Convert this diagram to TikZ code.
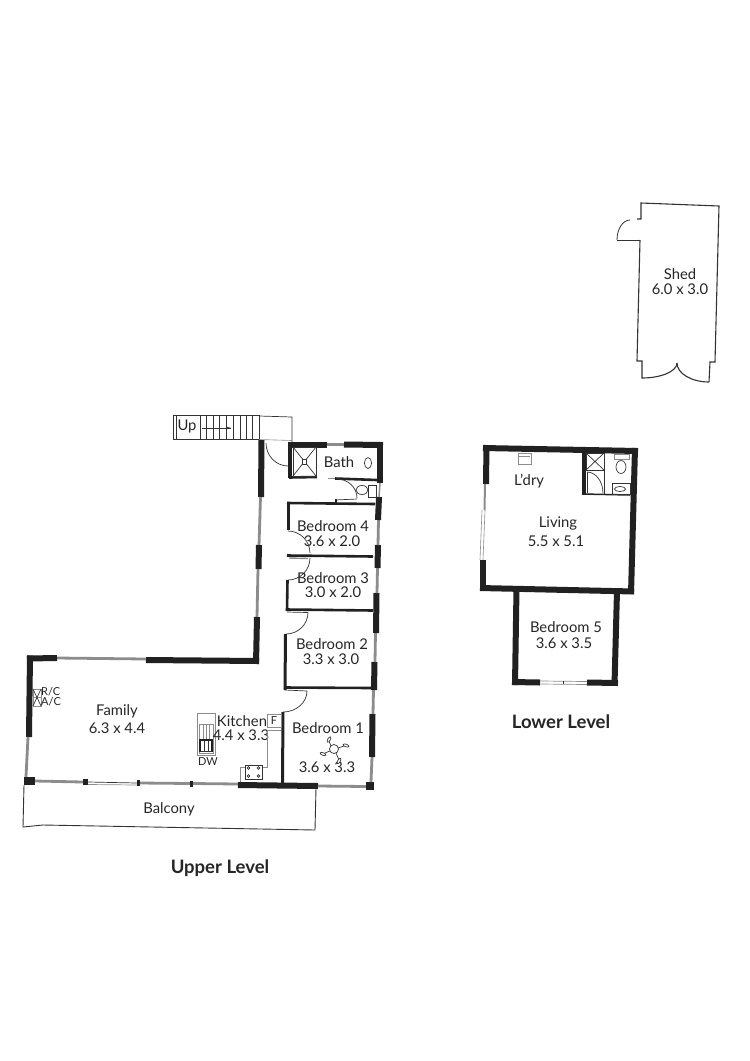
\documentclass[tikz,border=0pt]{standalone}
\usepackage{fontspec}
\usetikzlibrary{calc}
\setmainfont{Lato}
\definecolor{wallc}{gray}{0.13}
\definecolor{glassc}{gray}{0.55}
\definecolor{inkc}{gray}{0.2}
\tikzset{
 wall/.style={line width=6pt,draw=wallc},
 swall/.style={line width=2.6pt,draw=wallc},
 glass/.style={line width=2.8pt,draw=glassc},
 thin/.style={line width=0.7pt,draw=inkc},
 fine/.style={line width=0.6pt,draw=glassc},
 lbl/.style={font=\fontsize{14.8}{16}\selectfont,text=black!85,inner sep=0pt},
 small/.style={font=\fontsize{11}{12}\selectfont,text=black!85,inner sep=0pt},
 head/.style={font=\bfseries\fontsize{18.5}{20}\selectfont,text=black!85,inner sep=0pt},
}
% quarter arc from #1 to #3 with corner #2
\newcommand{\qarc}[3]{#1 .. controls ($#1!0.55!#2$) and ($#3!0.55!#2$) .. #3}
\begin{document}
\begin{tikzpicture}[x=1pt,y=-1pt]
\useasboundingbox[fill=white] (0,0) rectangle (750,1061);
% ---------- Stairs
\draw[thin] (173,415) rectangle (259,439);
\draw[thin] (259,416) -- (292,417) -- (292,442);
\draw[fine] (259,439.5) -- (292,440.5);
\foreach \x in {200,206.5,213,219.5,226,233,240,246,252.5}{\draw[fine,draw=inkc] (\x,415) -- (\x,439);}
\draw[fine,draw=inkc] (176,415) -- (176,439);
\draw[fine,draw=inkc] (202,428) -- (231,428);
\draw[fill=inkc,draw=none] (231,428) -- (226,426.5) -- (226,429.5) -- cycle;
\node[lbl] (up) at (187,426) {Up};
% ---------- Upper level walls: left / family
\draw[wall] (261.5,440) -- (261,497);
\draw[glass] (260.5,497) -- (259,546);
\draw[wall] (259,545) -- (258.5,569);
\draw[glass] (258,569) -- (257,617);
\draw[wall] (257,617) -- (256,664);
\draw[wall] (259,661) -- (146,660);
\draw[glass] (146,659) -- (57,658);
\draw[wall] (57,658) -- (27,658.5);
\draw[wall] (30,655.5) -- (29,737);
\draw[glass] (28,737) -- (26,777);
\draw[wall,line width=8pt] (24,781) -- (35,781);
% balcony wall
\draw[glass] (35,781) -- (83,782);
\draw[wall,line width=6pt] (83,782) -- (88,782);
\draw[thin] (88,782) -- (137,783);
\draw[thin,draw=glassc] (88,784.5) -- (137,785);
\draw[wall,line width=6pt] (137,782.5) -- (140,782.5);
\draw[glass] (140,783) -- (190,783.5);
\draw[wall,line width=6pt] (190,783.5) -- (193,783.5);
\draw[glass] (193,783.5) -- (238,784);
\draw[wall] (238,785) -- (318,786);
\draw[glass] (318,786) -- (366,786.5);
\draw[wall,line width=8pt] (366,786) -- (374,786);
% right wall
\draw[glass] (371,782) -- (372,757);
\draw[wall] (372,757) -- (372.5,714);
\draw[glass] (373,714) -- (373.5,690);
\draw[wall] (374,690) -- (374.5,662);
\draw[glass] (375,662) -- (375.5,633);
\draw[wall] (376,633) -- (376.5,593);
\draw[glass] (377,593) -- (377.5,568);
\draw[wall] (377.5,568) -- (378,545);
\draw[glass] (378,545) -- (378.5,520);
\draw[wall] (378,520) -- (379,497);
\draw[glass,line width=1.5pt] (379,497) -- (380,483);
\draw[wall] (380,483) -- (380,442);
% top bath wall
\draw[wall] (288,444.5) -- (327,444.5);
\draw[glass] (327,444.5) -- (344,444.5);
\draw[wall] (344,444.5) -- (383,445);
% shower
\draw[swall,line width=3.5pt] (290,443) -- (290,478);
\draw[swall] (289,477.5) -- (317,477);
\draw[thin] (293,447) rectangle (316,476);
\draw[thin] (293,447) -- (316,476) (316,447) -- (293,476);
\draw[thin,fill=white] (302,459) rectangle (306,464);
% entry door
\draw[thin] \qarc{(266,443)}{(266,466)}{(288,466)};
\node[lbl] (bath) at (339,462) {Bath};
\draw[thin] (368,463) ellipse (3.6pt and 5.5pt);
% ensuite
\draw[swall] (335,478.5) -- (377,480);
\draw[fine] (328,478) -- (335,478);
\draw[thin] \qarc{(337,479)}{(357,479)}{(357,498)};
\draw[thin] (362,490) ellipse (6pt and 4.5pt);
\draw[thin] (368,485) rectangle (376,497);
\draw[thin] (335,500) -- (357,499);
\draw[swall,line width=1.5pt] (336,499) -- (336,503);
% bedroom 4
\draw[swall] (287,503) -- (375,504);
\draw[swall] (288.5,503) -- (288.5,530);
\draw[thin] \qarc{(288,531)}{(310,531)}{(310,553)};
\draw[swall] (287,555.5) -- (373,556.5);
\draw[fine,line width=1.4pt] (289,558) -- (308,558.5);
\node[lbl] (b4) at (333,526) {Bedroom 4};
\node[lbl] (b4d) at (332,541) {3.6 x 2.0};
% bedroom 3
\draw[thin] \qarc{(310,558)}{(310,580)}{(288,580)};
\draw[swall] (287.5,580) -- (287,611);
\draw[swall] (286,609.5) -- (373,610.5);
\node[lbl] (b3) at (333,578) {Bedroom 3};
\node[lbl] (b3d) at (333,592) {3.0 x 2.0};
% bedroom 2
\draw[thin] (287,612) -- (308,612.5);
\draw[thin] \qarc{(308,612.5)}{(308,634)}{(286,634)};
\draw[swall,line width=3pt] (285.5,634) -- (285,690);
\draw[swall] (284,687.5) -- (372,688);
\node[lbl] (b2) at (332,644) {Bedroom 2};
\node[lbl] (b2d) at (331,659) {3.3 x 3.0};
% bedroom 1
\draw[thin] (285,690) -- (307,691);
\draw[thin] \qarc{(307,691)}{(307,712)}{(283,712)};
\draw[swall,line width=3pt] (283,712) -- (282.5,783);
\node[lbl] (b1) at (328,728) {Bedroom 1};
\node[lbl] (b1d) at (327,767) {3.6 x 3.3};
% fan
\draw[thin] (331,746) -- (329,741) (338,748) -- (344,746) (330,751) -- (325,753) (336,753) -- (339,760);
\draw[thin,fill=white,rotate around={60:(329,739.5)}] (329,739.5) ellipse (3pt and 1.3pt);
\draw[thin,fill=white,rotate around={-20:(346,745.5)}] (346,745.5) ellipse (3pt and 1.3pt);
\draw[thin,fill=white,rotate around={-20:(323,754)}] (323,754) ellipse (3pt and 1.3pt);
\draw[thin,fill=white,rotate around={60:(339,761)}] (339,761) ellipse (3pt and 1.3pt);
\draw[thin,fill=white] (334,749) circle (4.5pt);
% kitchen
\draw[thin,draw=glassc] (197,713) rectangle (215,755);
\draw[thin,draw=glassc] (199,724) rectangle (213,753);
\draw[thin] (200,740) rectangle (212,751);
\draw[line width=1.3pt,draw=wallc] (200,752) -- (200,740) -- (212,740) -- (212,752);
\draw[fine] (203,724) -- (203,739) (206,724) -- (206,739) (209,724) -- (209,739);
\draw[fine,draw=inkc] (204,741) -- (204,751) (208,741) -- (208,751);
\node[small] (dw) at (208,762) {DW};
\node[lbl] (kit) at (242,721) {Kitchen};
\node[lbl] (kitd) at (241,735) {4.4 x 3.3};
\draw[thin,draw=glassc] (267,714) rectangle (281,727);
\node[small] (f) at (274,720.5) {F};
\draw[thin,draw=glassc] (281,730) -- (267,730) -- (267,767) -- (240,767) -- (240,782);
\draw[thin,fill=white] (245,765) rectangle (262,779);
\draw[thin] (248.5,768) circle (1.3pt) (258.5,768) circle (1.3pt) (248.5,776) circle (1.3pt) (258.5,776) circle (1.3pt);
% family
\draw[thin,draw=glassc] (33,689) rectangle (41,697);
\draw[thin,draw=glassc] (33,697) rectangle (41,706);
\draw[thin] (33,689) -- (41,706) (41,689) -- (33,706);
\node[small,anchor=west] (rc) at (41,692) {R/C};
\node[small,anchor=west] (ac) at (41,702) {A/C};
\node[lbl] (fam) at (117,711) {Family};
\node[lbl] (famd) at (117,728) {6.3 x 4.4};
% balcony
\draw[line width=0.9pt,draw=inkc] (24,785) -- (23,827) -- (43,825) -- (315,830) -- (316,788);
\node[lbl] (balc) at (169,809) {Balcony};
\node[head] (ul) at (220,868) {Upper Level};
% ---------- Lower level
\draw[wall] (483,448) -- (638,451);
\draw[wall] (635,448) -- (631,594);
\draw[wall] (634,591.5) -- (480,588);
\draw[wall] (486.5,445) -- (486,484);
\draw[wall] (483,560) -- (483,591);
\draw[glass,line width=2pt] (485,484) -- (484.5,510);
\draw[fine] (482,510) -- (480,560) (485,510) -- (483,560);
% bedroom 5
\draw[wall] (516.5,589) -- (515,685);
\draw[wall] (617,591) -- (614.5,685);
\draw[wall] (512,682) -- (540,682.5);
\draw[wall] (587,682.5) -- (618,683);
\draw[thin,draw=glassc] (540,681) -- (587,681.5) (540,684) -- (587,684.5);
\draw[thin] (563,681.2) -- (563,684.3);
% lower bath
\draw[swall,line width=3.5pt] (584,451) -- (584,495);
\draw[swall,line width=1.5pt] (582,494) -- (630,495);
\draw[thin] (586,453) rectangle (604,470);
\draw[thin] (586,453) -- (604,470) (604,453) -- (586,470);
\draw[thin] (604,470) -- (604,494);
\draw[thin] (587,472) -- (587,493);
\draw[thin] \qarc{(587,472)}{(603,472)}{(603,493)};
\draw[thin,draw=glassc] (614,454) rectangle (629,459);
\draw[thin] (621,467) ellipse (5pt and 6.5pt);
\draw[thin] (612,483) rectangle (630,494);
\draw[thin] (620,489) ellipse (5.5pt and 2.5pt);
\draw[thin,draw=glassc,fill=white] (518,453) rectangle (531,464);
\draw[thin,draw=glassc] (519,456) -- (530,456);
\node[lbl] (ldry) at (529,481) {L'dry};
\node[lbl] (liv) at (558,523) {Living};
\node[lbl] (livd) at (556,541) {5.5 x 5.1};
\node[lbl] (b5) at (566,627) {Bedroom 5};
\node[lbl] (b5d) at (564,643) {3.6 x 3.5};
\node[head] (ll) at (561,722) {Lower Level};
% ---------- Shed
\draw[line width=1.1pt,draw=inkc] (637,219) -- (641,219) -- (641,203) -- (719,206) -- (715,362) -- (710,362) -- (709,382);
\draw[line width=1.1pt,draw=inkc] \qarc{(709,382)}{(677,382)}{(677,363)};
\draw[line width=1.1pt,draw=inkc] \qarc{(677,363)}{(677,378)}{(642,378)} -- (642,361) -- (637,361) -- (640,240);
\draw[line width=0.8pt,draw=inkc] (640,240) -- (617,240);
\draw[line width=0.8pt,draw=inkc] \qarc{(617,240)}{(617,220)}{(630,220)};
\node[lbl] (shed) at (680,274) {Shed};
\node[lbl] (shedd) at (680,289) {6.0 x 3.0};
\end{tikzpicture}
\end{document}
